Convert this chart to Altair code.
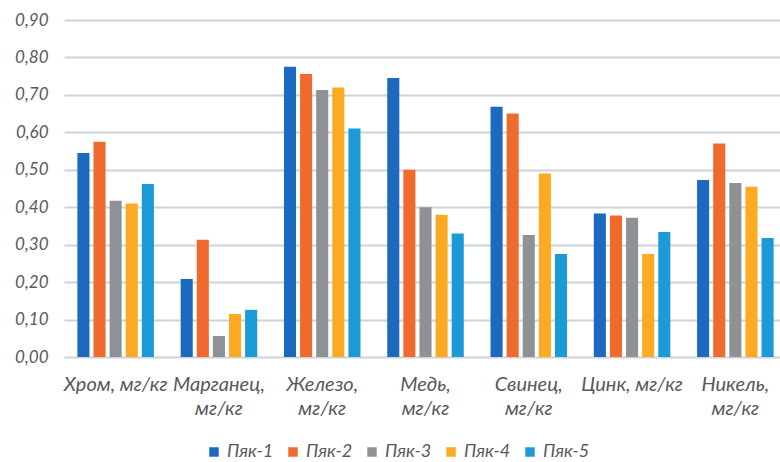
import altair as alt
import pandas as pd

categories = ["Хром, мг/кг", "Марганец,\nмг/кг", "Железо,\nмг/кг", "Медь,\nмг/кг",
              "Свинец,\nмг/кг", "Цинк, мг/кг", "Никель,\nмг/кг"]
series = ["Пяк-1", "Пяк-2", "Пяк-3", "Пяк-4", "Пяк-5"]
v1 = [0.545, 0.208, 0.775, 0.745, 0.668, 0.383, 0.473]
v2 = [0.575, 0.313, 0.756, 0.500, 0.650, 0.378, 0.570]
v3 = [0.417, 0.056, 0.713, 0.400, 0.326, 0.372, 0.465]
v4 = [0.410, 0.115, 0.720, 0.380, 0.490, 0.275, 0.455]
v5 = [0.462, 0.126, 0.610, 0.330, 0.275, 0.334, 0.318]
colors = ["#1B6AC0", "#F06A2E", "#8E9297", "#FCAA22", "#1C9AD6"]

rows = []
for s, vals in zip(series, [v1, v2, v3, v4, v5]):
    for c, v in zip(categories, vals):
        rows.append({"cat": c, "series": s, "value": v})
df = pd.DataFrame(rows)

FONT = "Lato"
LABEL_COLOR = "#595959"
GRID = "#CDD3D6"

chart = alt.Chart(df).mark_bar().encode(
    x=alt.X("cat:N", sort=categories, title=None,
            scale=alt.Scale(paddingInner=0.22, paddingOuter=0.11, range=[2, 725]),
            axis=alt.Axis(labelAngle=0, labelExpr="split(datum.label, '\\n')",
                          labelFont=FONT, labelFontStyle="italic", labelFontSize=20,
                          labelColor=LABEL_COLOR, labelPadding=17, labelLineHeight=24,
                          ticks=False, domain=False, labelBaseline="top")),
    xOffset=alt.XOffset("series:N", sort=series,
                        scale=alt.Scale(paddingInner=0.25, paddingOuter=0.125)),
    y=alt.Y("value:Q", title=None,
            scale=alt.Scale(domain=[0, 0.9], nice=False),
            axis=alt.Axis(values=[0, 0.1, 0.2, 0.3, 0.4, 0.5, 0.6, 0.7, 0.8, 0.9],
                          labelExpr="replace(format(datum.value, '.2f'), '.', ',')",
                          labelFont=FONT, labelFontStyle="italic", labelFontSize=17,
                          labelColor=LABEL_COLOR, labelPadding=14,
                          ticks=False, domain=False,
                          gridColor=GRID, gridWidth=2)),
    color=alt.Color("series:N", sort=series, title=None,
                    scale=alt.Scale(domain=series, range=colors),
                    legend=alt.Legend(orient="none", legendX=143, legendY=423,
                                      direction="horizontal", symbolType="square",
                                      symbolSize=90, symbolStrokeWidth=0,
                                      labelFont=FONT, labelFontStyle="italic",
                                      labelFontSize=18, labelColor=LABEL_COLOR,
                                      labelOffset=4, columnPadding=10)),
).properties(
    width=718, height=337,
    autosize=alt.AutoSizeParams(type="none"),
    padding={"left": 62, "top": 20, "right": 0, "bottom": 105},
).configure_view(stroke=None)

chart.save("out.html", embed_options={"renderer": "svg", "actions": False})
